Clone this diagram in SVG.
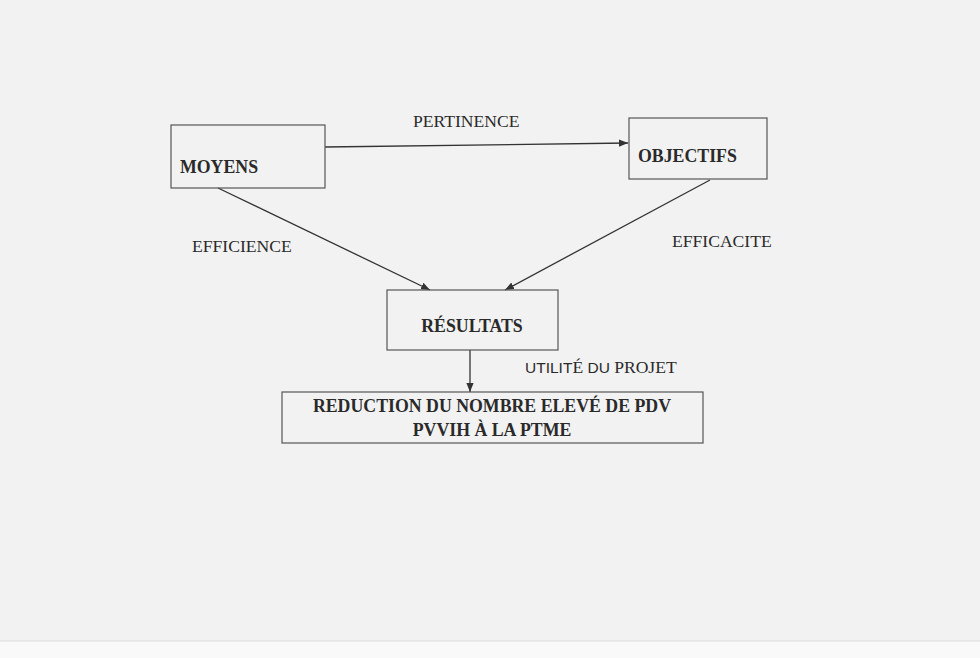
<svg xmlns="http://www.w3.org/2000/svg" width="980" height="658" viewBox="0 0 980 658">
<defs>
<style>
.box{fill:none;stroke:#555;stroke-width:1.2}
.lbl{font-family:"Liberation Serif","Times New Roman",serif;font-size:17.6px;fill:#2a2a2a}
.bold{font-family:"Liberation Serif","Times New Roman",serif;font-weight:bold;font-size:17.8px;fill:#2a2a2a}
.edge{stroke:#333;stroke-width:1.3;fill:none;marker-end:url(#ah)}
.sans{font-family:"Liberation Sans",Arial,sans-serif}
</style>
<marker id="ah" viewBox="0 0 10 10" refX="10" refY="5" markerWidth="9" markerHeight="9" markerUnits="userSpaceOnUse" orient="auto">
<path d="M0,1 L10,5 L0,9 Z" fill="#333"/>
</marker>
</defs>
<rect width="980" height="658" fill="#f2f2f2"/>
<rect x="0" y="641" width="980" height="17" fill="#f9f9f9"/>
<line x1="0" y1="641" x2="980" y2="641" stroke="#dcdcdc" stroke-width="1"/>
<g id="connectors">
<line class="edge" x1="325" y1="147" x2="628" y2="143"/>
<line class="edge" x1="218" y1="188" x2="430" y2="290"/>
<line class="edge" x1="710" y1="180" x2="505" y2="290"/>
<line class="edge" x1="470" y1="350" x2="470" y2="392"/>
<text class="lbl" x="413" y="127">PERTINENCE</text>
<text class="lbl" x="192" y="252">EFFICIENCE</text>
<text class="lbl" x="672" y="247">EFFICACITE</text>
<text class="lbl" x="525" y="373"><tspan class="sans" font-size="15.5">UTILIT</tspan><tspan>É</tspan><tspan class="sans" font-size="15.5"> DU </tspan><tspan>PROJET</tspan></text>
</g>
<g id="moyens">
<rect class="box" x="171" y="125" width="154" height="63"/>
<text class="bold" x="180" y="173">MOYENS</text>
</g>
<g id="objectifs">
<rect class="box" x="629" y="118" width="138" height="61"/>
<text class="bold" x="638" y="162">OBJECTIFS</text>
</g>
<g id="resultats">
<rect class="box" x="387" y="290" width="171" height="60"/>
<text class="bold" x="472" y="332" text-anchor="middle">RÉSULTATS</text>
</g>
<g id="reduction">
<rect class="box" x="282" y="392" width="421" height="51"/>
<text class="bold" x="492" y="412" text-anchor="middle" font-size="18.6">REDUCTION DU NOMBRE ELEVÉ DE PDV</text>
<text class="bold" x="492" y="436" text-anchor="middle" font-size="18.6">PVVIH À LA PTME</text>
</g>
</svg>
